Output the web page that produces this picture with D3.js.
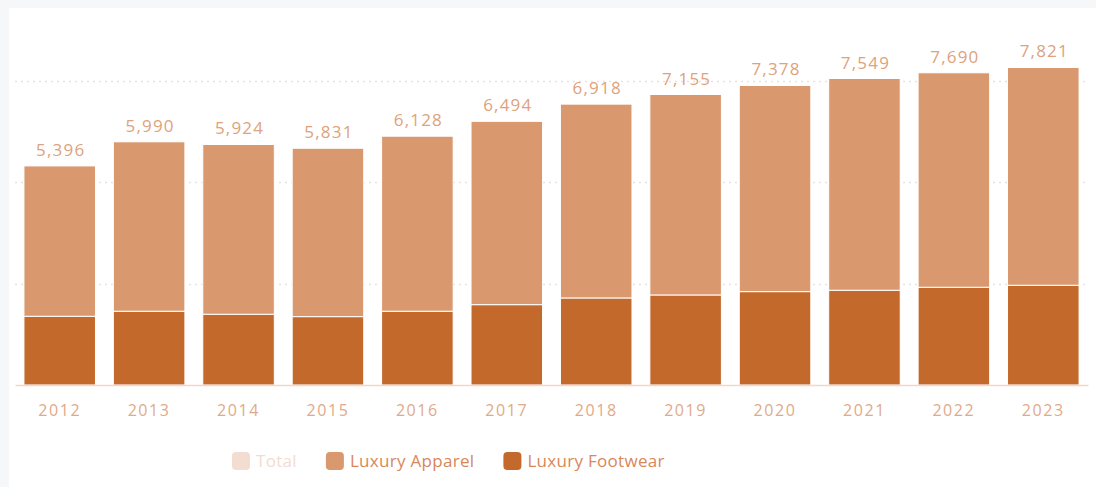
<!DOCTYPE html>
<html>
<head>
<meta charset="utf-8">
<script src="https://cdnjs.cloudflare.com/ajax/libs/d3/7.8.5/d3.min.js"></script>
<style>
    html, body { margin: 0; padding: 0; background: #f6f7f9; }
    .chart { position: absolute; left: 9px; top: 8px; width: 1087px; height: 479px; background: #fff; }
    svg { display: block; }
</style>
</head>
<body>
<div class="chart"></div>
<script>
var years = ["2012", "2013", "2014", "2015", "2016", "2017", "2018", "2019", "2020", "2021", "2022", "2023"];
var totals = [5396, 5990, 5924, 5831, 6128, 6494, 6918, 7155, 7378, 7549, 7690, 7821];
var footwear = [1693, 1817, 1743, 1684, 1817, 1979, 2144, 2218, 2300, 2334, 2408, 2457];
var apparel = totals.map(function (t, i) { return t - footwear[i]; });
var gridTicks = [2500, 5000, 7500];
var legendNames = ["Total", "Luxury Apparel", "Luxury Footwear"];

var option = {
    container: ".chart",
    width: 1096,
    height: 487,
    colorApparel: "#d9986e",
    colorFootwear: "#c4692c",
    colorTotal: "#f3ddd1"
};

function stackedBars(options) {
    var svg = d3.select("body")
            .append("svg")
            .attr("width", options.width)
            .attr("height", options.height)
            .style("position", "absolute")
            .style("left", 0)
            .style("top", 0);

    var xScale = d3.scaleBand()
            .domain(years)
            .range([15, 1088])
            .paddingInner(0.2)
            .paddingOuter(0.1);

    var yScale = d3.scaleLinear()
            .domain([0, 7500])
            .range([385, 80.5]);

    var rows = years.map(function (y, i) {
        return {year: y, footwear: footwear[i], apparel: apparel[i], total: totals[i]};
    });
    var series = d3.stack().keys(["footwear", "apparel"])(rows);
    var colors = {footwear: options.colorFootwear, apparel: options.colorApparel};

// grid lines
    svg.append("g")
            .selectAll("line")
            .data(gridTicks)
            .enter().append("line")
            .attr("x1", 15)
            .attr("x2", 1088)
            .attr("y1", function (d) { return Math.round(yScale(d)) + 0.5; })
            .attr("y2", function (d) { return Math.round(yScale(d)) + 0.5; })
            .style("stroke", "#e4e4e4")
            .style("stroke-width", 1.5)
            .style("stroke-dasharray", "2,4");

// bars
    svg.append("g")
            .selectAll("g")
            .data(series)
            .enter().append("g")
            .attr("fill", function (d) { return colors[d.key]; })
            .selectAll("rect")
            .data(function (d) { return d; })
            .enter().append("rect")
            .attr("x", function (d) { return xScale(d.data.year); })
            .attr("y", function (d) { return yScale(d[1]); })
            .attr("width", xScale.bandwidth())
            .attr("height", function (d) { return yScale(d[0]) - yScale(d[1]); })
            .style("stroke", "#fff")
            .style("stroke-width", 1);

// x axis
    var xAxis = d3.axisBottom(xScale).tickSize(0).tickPadding(20);
    var x_g = svg.append("g")
            .attr("transform", "translate(0,385)")
            .call(xAxis);
    x_g.select("path")
            .style("stroke", "#f2d6c6")
            .style("stroke-width", 1.5);
    x_g.selectAll("text")
            .style("font-family", "'Open Sans', sans-serif")
            .style("font-size", "16px")
            .style("letter-spacing", "1.6px")
            .style("fill", "#e0aa8a");

// total labels
    svg.append("g")
            .selectAll("text")
            .data(rows)
            .enter().append("text")
            .attr("x", function (d) { return xScale(d.year) + xScale.bandwidth() / 2 + 1; })
            .attr("y", function (d) { return yScale(d.total) - 10; })
            .attr("text-anchor", "middle")
            .style("font-family", "'Open Sans', sans-serif")
            .style("font-size", "17px")
            .style("letter-spacing", "1.2px")
            .style("fill", "#dea27c")
            .text(function (d) { return d3.format(",")(d.total); });

// legend
    var legendColors = [options.colorTotal, options.colorApparel, options.colorFootwear];
    var legend = svg.append("g").attr("transform", "translate(232,452)");
    var lx = 0;
    legendNames.forEach(function (name, i) {
        var item = legend.append("g").attr("transform", "translate(" + lx + ",0)");
        item.append("rect")
                .attr("width", 18)
                .attr("height", 18)
                .attr("rx", 4)
                .attr("fill", legendColors[i]);
        var t = item.append("text")
                .attr("x", 24)
                .attr("y", 15)
                .style("font-family", "'Open Sans', sans-serif")
                .style("font-size", "17px")
                .style("letter-spacing", "0.3px")
                .style("fill", i === 0 ? "#f2dcd0" : "#d8875a")
                .text(name);
        lx += 24 + t.node().getComputedTextLength() + 29;
    });
}
stackedBars(option);
</script>
</body>
</html>
